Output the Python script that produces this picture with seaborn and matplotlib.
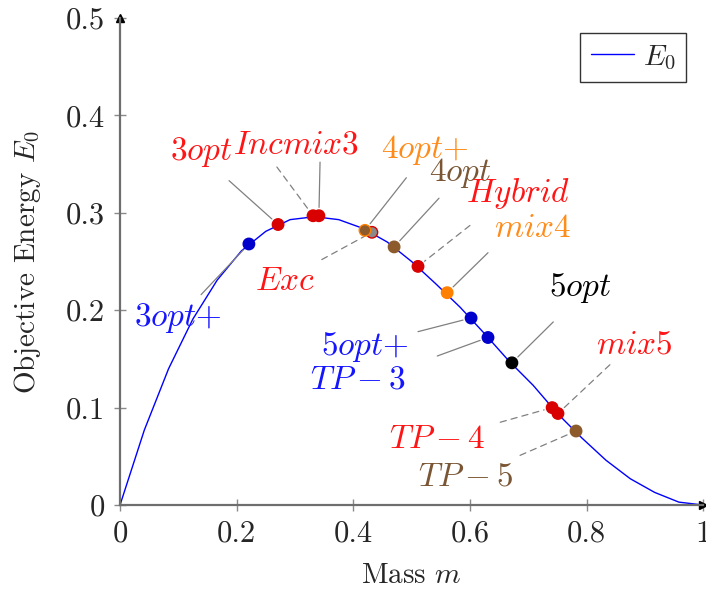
import seaborn as sns
import matplotlib.pyplot as plt
import pandas as pd

# curve E0(m) (25 samples)
mass_curve = [0, 0.0417, 0.0833, 0.125, 0.1667, 0.2083, 0.25, 0.2917, 0.3333, 0.375,
              0.4167, 0.4583, 0.5, 0.5417, 0.5833, 0.625, 0.6667, 0.7083, 0.75, 0.7917,
              0.8333, 0.875, 0.9167, 0.9583, 1.0]
energy_curve = [0, 0.077, 0.140, 0.191, 0.231, 0.261, 0.281, 0.293, 0.296, 0.293,
                0.284, 0.270, 0.250, 0.227, 0.203, 0.176, 0.148, 0.123, 0.094, 0.069,
                0.046, 0.027, 0.013, 0.003, 0.0]

# algorithm results
pt_mass = [0.221, 0.271, 0.331, 0.341, 0.432, 0.420, 0.470, 0.511, 0.561, 0.602, 0.631, 0.672, 0.741, 0.751, 0.782]
pt_energy = [0.268, 0.288, 0.297, 0.297, 0.280, 0.282, 0.265, 0.245, 0.218, 0.192, 0.172, 0.146, 0.100, 0.094, 0.076]
pt_group = ['blue', 'red', 'red', 'red', 'gray', 'brown', 'brown', 'red', 'orange', 'blue', 'blue', 'black', 'red', 'red', 'brown']
pt_edge = ['blue', 'red', 'red', 'red', 'red', 'orange', 'brown', 'red', 'orange', 'blue', 'blue', 'black', 'red', 'red', 'brown']

labels = ['3opt{+}', '3opt', 'Incmix3', 'Exc', '4opt{+}', '4opt', 'Hybrid', 'mix4',
          '5opt', '5opt{+}', 'TP-3', 'mix5', 'TP-4', 'TP-5']
label_group = ['blue', 'red', 'red', 'red', 'orange', 'brown', 'red', 'orange',
               'black', 'blue', 'blue', 'red', 'red', 'brown']

marker_col = {'blue': '#0000CC', 'red': '#D80000', 'orange': '#FF8000',
              'brown': '#8C5A2B', 'black': '#000000', 'gray': '#8A8A8A'}
text_col = {'blue': '#1515FF', 'red': '#FF1515', 'orange': '#FF8C1A',
            'brown': '#7A5634', 'black': '#000000'}

# label layout: text centre, then leader lines (start, target point index, dashed?)
text_pos = [(0.099, 0.192), (0.140, 0.362), (0.302, 0.370), (0.283, 0.229), (0.523, 0.364),
            (0.583, 0.341), (0.683, 0.320), (0.707, 0.284), (0.789, 0.223), (0.420, 0.162),
            (0.408, 0.128), (0.882, 0.164), (0.544, 0.067), (0.592, 0.029)]
leaders = [((0.139, 0.216), 0, False), ((0.187, 0.333), 1, False), ((0.269, 0.347), 2, True),
           ((0.343, 0.352), 3, False), ((0.346, 0.252), 4, True), ((0.491, 0.336), 5, False),
           ((0.547, 0.315), 6, False), ((0.600, 0.287), 7, True), ((0.631, 0.259), 8, False),
           ((0.743, 0.188), 11, False), ((0.511, 0.178), 9, False), ((0.544, 0.153), 10, False),
           ((0.840, 0.144), 13, True), ((0.652, 0.085), 12, True), ((0.686, 0.051), 14, True)]

sns.set_style('ticks')
plt.rcParams['font.family'] = 'serif'
plt.rcParams['font.serif'] = ['cmr10']
plt.rcParams['mathtext.fontset'] = 'cm'
plt.rcParams['axes.unicode_minus'] = False
plt.rcParams['axes.formatter.use_mathtext'] = True

fig = plt.figure(figsize=(7.06, 5.9), dpi=100)
ax = fig.add_axes([0.170, 0.144, 0.826, 0.8255])

curve = pd.DataFrame({'m': mass_curve, 'E': energy_curve})
sns.lineplot(data=curve, x='m', y='E', ax=ax, color='#0000FF', lw=1.0,
             label='$E_0$', sort=False, zorder=2)

pts = pd.DataFrame({'m': pt_mass, 'E': pt_energy, 'g': pt_group})
sns.scatterplot(data=pts, x='m', y='E', hue='g', palette=marker_col, ax=ax,
                s=68, edgecolor=[marker_col[c] for c in pt_edge], linewidth=1.0,
                legend=False, zorder=4)

for (start, idx, dashed) in leaders:
    ax.annotate('', xy=(pt_mass[idx], pt_energy[idx]), xytext=start,
                arrowprops=dict(arrowstyle='-', color='#808080', lw=0.9,
                                ls=(0, (5, 4)) if dashed else '-',
                                shrinkA=0, shrinkB=6), zorder=3)

for lab, g, (tx, ty) in zip(labels, label_group, text_pos):
    ax.text(tx, ty, '$' + lab + '$', color=text_col[g], fontsize=24,
            ha='center', va='center')

ax.set_xlim(0, 1)
ax.set_ylim(0, 0.5)
ax.set_xticks([0, 0.2, 0.4, 0.6, 0.8, 1.0])
ax.set_yticks([0, 0.1, 0.2, 0.3, 0.4, 0.5])
ax.set_xticklabels(['0', '0.2', '0.4', '0.6', '0.8', '1'])
ax.set_yticklabels(['0', '0.1', '0.2', '0.3', '0.4', '0.5'])
ax.tick_params(direction='inout', length=8, width=1, color='#8a8a8a', labelsize=22, pad=7)
ax.set_xlabel('Mass $m$', fontsize=21, labelpad=11)
ax.set_ylabel('Objective Energy $E_0$', fontsize=21, labelpad=16)

for side in ['top', 'right']:
    ax.spines[side].set_visible(False)
for side in ['left', 'bottom']:
    ax.spines[side].set_color('#6e6e6e')
    ax.spines[side].set_linewidth(1.6)
ax.plot(1, 0, marker='>', color='black', ms=6, transform=ax.transAxes, clip_on=False)
ax.plot(0, 1, marker='^', color='black', ms=6, transform=ax.transAxes, clip_on=False)

leg = ax.legend(loc='upper right', bbox_to_anchor=(0.971, 0.969), borderaxespad=0,
                fontsize=21, frameon=True, fancybox=False, handlelength=1.5,
                handletextpad=0.3, borderpad=0.35)
leg.get_frame().set_edgecolor('black')
leg.get_frame().set_linewidth(1.0)

plt.savefig('out.png', dpi=100)
